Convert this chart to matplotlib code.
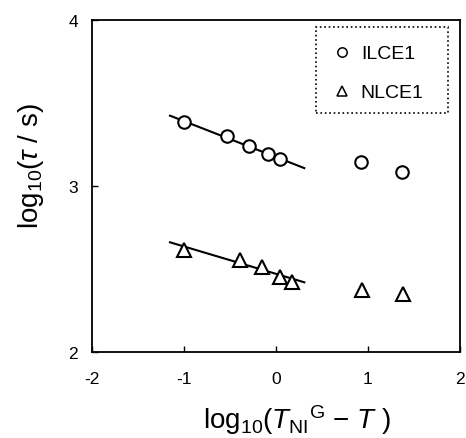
import matplotlib
matplotlib.use("Agg")
import matplotlib.pyplot as plt
from matplotlib.patches import Rectangle

plt.rcParams['font.family'] = ['Liberation Sans', 'DejaVu Sans']
plt.rcParams['mathtext.fontset'] = 'custom'
plt.rcParams['mathtext.rm'] = 'Liberation Sans'
plt.rcParams['mathtext.it'] = 'Liberation Sans:italic'
plt.rcParams['mathtext.bf'] = 'Liberation Sans:bold'

# Data
ilce_x = [-1.00, -0.527, -0.293, -0.083, 0.047, 0.924, 1.366]
ilce_y = [3.384, 3.303, 3.239, 3.195, 3.163, 3.146, 3.082]
nlce_x = [-0.997, -0.395, -0.156, 0.043, 0.177, 0.938, 1.376]
nlce_y = [2.616, 2.556, 2.510, 2.454, 2.424, 2.373, 2.349]
fit_x = [-1.152, 0.308]
ilce_fit_y = [3.424, 3.108]
nlce_fit_y = [2.661, 2.420]
xticks = [-2, -1, 0, 1, 2]
yticks = [2, 3, 4]

fig = plt.figure(figsize=(4.66, 4.39), dpi=100)
ax = fig.add_axes([0.1974, 0.1959, 0.7896, 0.7561])

ax.plot(fit_x, ilce_fit_y, color='black', lw=1.5, zorder=2)
ax.plot(fit_x, nlce_fit_y, color='black', lw=1.5, zorder=2)
ax.plot(ilce_x, ilce_y, 'o', ms=9, mfc='white', mec='black', mew=1.5,
        ls='none', label='ILCE1', zorder=3)
ax.plot(nlce_x, nlce_y, '^', ms=10, mfc='white', mec='black', mew=1.5,
        ls='none', label='NLCE1', zorder=3)

ax.set_xlim(-2, 2)
ax.set_ylim(2, 4)
ax.set_xticks(xticks)
ax.set_yticks(yticks)
ax.set_xticklabels([str(t) for t in xticks])
ax.set_yticklabels([str(t) for t in yticks])
ax.tick_params(direction='in', length=4, width=1, labelsize=12.5)
ax.tick_params(axis='x', pad=14)
ax.tick_params(axis='y', pad=10)

for s in ax.spines.values():
    s.set_linewidth(1.3)

ax.set_ylabel(r'log$_{10}$($\tau$ / s)', fontsize=20)
ax.set_xlabel(r'log$_{10}$($T_{\mathrm{NI}}$$^{\mathrm{G}}$ $-$ $T$ )', fontsize=20)
ax.yaxis.set_label_coords(-0.125, 0.563)
ax.xaxis.set_label_coords(0.556, -0.15)

leg = ax.legend(loc='upper left', fontsize=14, frameon=False,
                handletextpad=0.4, borderpad=0.0, labelspacing=1.1,
                handlelength=1.1, markerscale=0.75,
                bbox_to_anchor=(0.625, 0.955))
for h in leg.legend_handles:
    h.set_markeredgewidth(1.1)

ax.add_patch(Rectangle((0.609, 0.720), 0.358, 0.259, transform=ax.transAxes,
                       fill=False, edgecolor='black', linestyle=':',
                       linewidth=1.2, zorder=4))

fig.savefig('out.png', dpi=100)
